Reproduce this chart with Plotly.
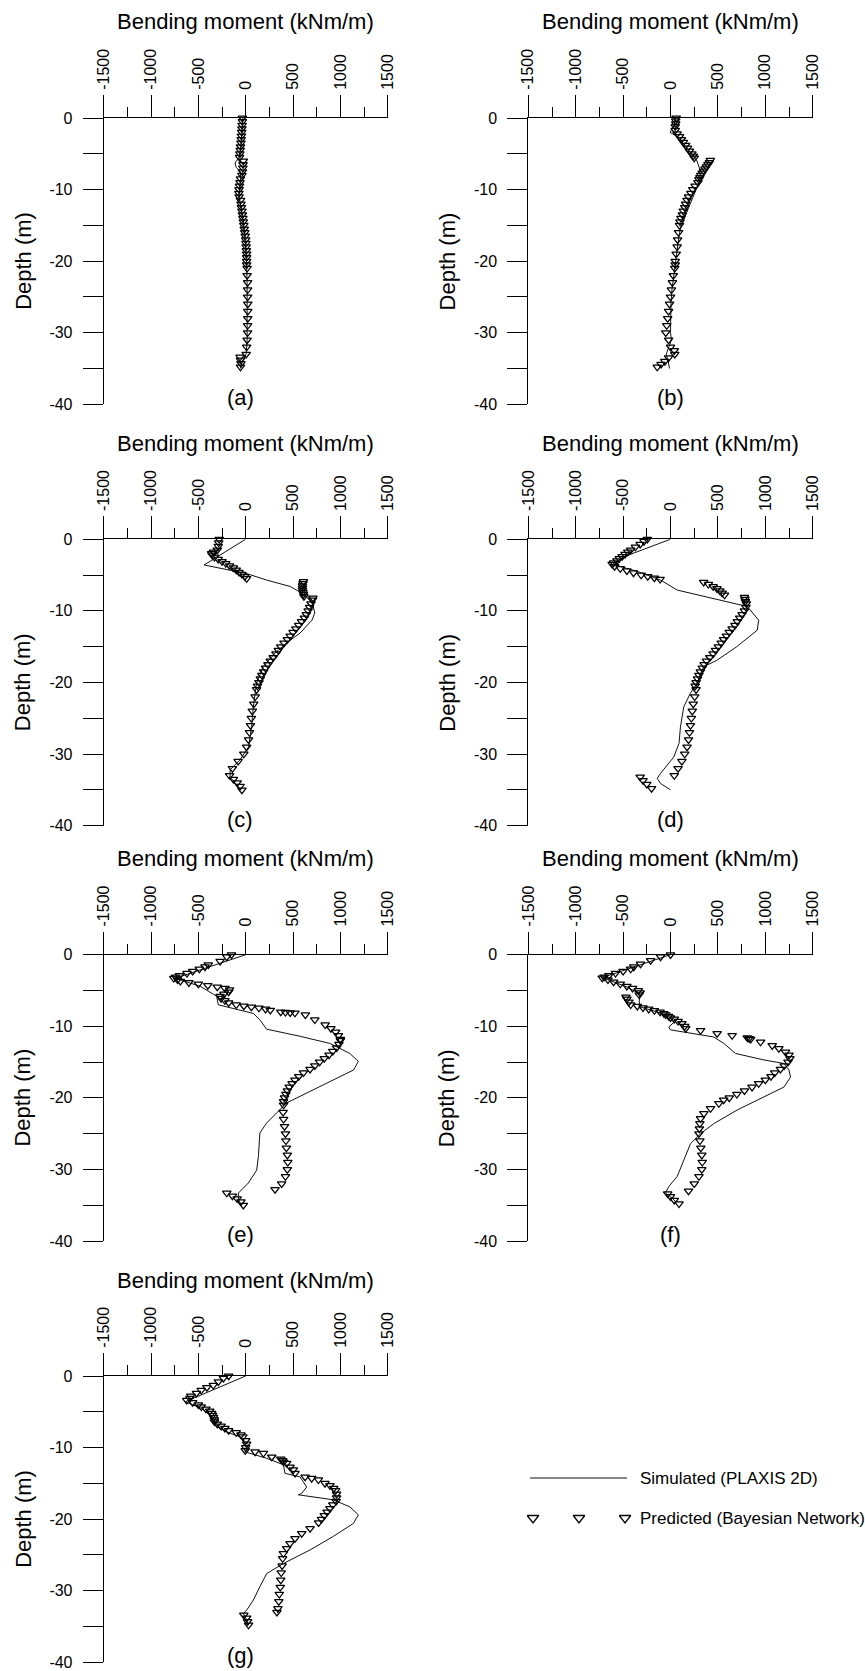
import plotly.graph_objects as go

# ---------------- data (depth in m, bending moment in kNm/m) ----------------
panel_labels = ["(a)", "(b)", "(c)", "(d)", "(e)", "(f)", "(g)"]
x_tick_values = [-1500, -1000, -500, 0, 500, 1000, 1500]
y_tick_values = [0, -5, -10, -15, -20, -25, -30, -35, -40]
y_tick_text = ["0", "", "-10", "", "-20", "", "-30", "", "-40"]

# (a)
sim_a_depth = [0, -2, -4, -5.5, -6.3, -6.9, -7.5, -8.5, -10, -11, -12, -13, -14.5, -16, -18, -20, -23, -26, -29, -31, -33, -34, -35]
sim_a_val = [-30, -38, -50, -70, -113, -100, -55, -55, -65, -70, -55, -40, -25, -10, 0, 8, 15, 18, 18, 15, 5, -35, -55]
pred_a_depth = [0, -0.5, -1, -1.5, -2, -2.5, -3, -3.5, -4, -4.5, -5, -5.5, -6, -6.5, -7, -7.5, -8, -8.5, -9, -9.5,
                -10, -10.5, -11, -11.5, -12, -12.5, -13, -13.5, -14, -14.5, -15, -15.5, -16, -16.5, -17, -17.5, -18, -18.5, -19, -19.5,
                -20, -20.5, -21, -22, -23, -24, -25, -26, -27, -28, -29, -30, -31, -32, -33, -33.4, -33.8, -34.3, -34.8]
pred_a_val = [-35, -35, -38, -40, -42, -45, -48, -50, -55, -58, -62, -65, -25, -28, -30, -35, -40, -55, -60, -65,
              -70, -72, -70, -55, -50, -45, -40, -35, -30, -25, -20, -15, -10, -5, 0, 2, 5, 7, 10, 10,
              10, 10, 15, 15, 20, 20, 20, 22, 22, 22, 20, 20, 15, 10, 5, -60, -55, -50, -55]

# (b)
sim_b_depth = [0, -1, -2, -2.5, -3, -4, -5, -6, -7, -8, -9, -10, -11, -12, -13, -14, -15, -16, -18, -20, -22, -24, -26, -28, -30, -31, -32, -33, -34, -35]
sim_b_val = [50, 40, -5, 60, 100, 160, 220, 280, 305, 315, 300, 270, 240, 210, 180, 145, 115, 95, 75, 60, 35, 15, 5, 0, 0, 10, -20, -45, -25, -10]
pred_b_depth = [0, -0.4, -0.8, -1.2, -1.7, -2.2, -2.6, -3, -3.4, -3.8, -4.2, -4.6, -5, -5.3, -5.6, -5.9, -6.2, -6.5, -6.8, -7.1,
                -7.4, -7.7, -8, -8.3, -8.6, -9, -9.5, -10, -10.5, -11, -11.5, -12, -12.5, -13, -13.5, -14, -14.5, -15, -16, -17,
                -18, -19, -20, -20.5, -21, -22, -23, -24, -25, -26, -27, -28, -29, -30, -31, -32, -32.5, -33, -33.5, -34, -34.4, -34.8]
pred_b_val = [60, 55, 55, 50, 50, 70, 95, 115, 135, 160, 180, 200, 225, 240, 250, 420, 410, 395, 380, 365,
              350, 335, 320, 310, 300, 290, 260, 235, 215, 190, 175, 160, 150, 135, 125, 110, 100, 95, 85, 75,
              70, 60, 50, 50, 45, 30, 20, 10, 0, -10, -20, -30, -40, -50, -20, 0, 40, 45, -20, -60, -100, -140]

# (c)
sim_c_depth = [0, -3.6, -4.8, -5.7, -6.6, -7.5, -8.7, -10.3, -11.3, -13.1, -14.5, -15.9, -17.8, -20.1, -23.4, -26.2, -29, -30.8, -32.2, -33.2, -35]
sim_c_val = [0, -440, 10, 220, 470, 590, 700, 730, 700, 575, 430, 310, 185, 115, 80, 63, 30, -60, -165, -165, -50]
pred_c_depth = [0, -0.5, -1, -1.5, -1.8, -2, -2.2, -2.5, -2.8, -3.1, -3.4, -3.7, -4, -4.3, -4.6, -4.9, -5.2, -5.5, -5.9, -6.2,
                -6.5, -6.8, -7.1, -7.4, -7.7, -8, -8.2, -8.5, -9, -9.5, -10, -10.5, -11, -11.5, -12, -12.5, -13, -13.5, -14, -14.5,
                -15, -15.5, -16, -16.5, -17, -17.5, -18, -18.5, -19, -19.5, -20, -20.5, -21, -22, -23, -24, -25, -26, -27, -28,
                -29, -30, -31, -32, -33, -33.5, -34, -34.5, -35]
pred_c_val = [-280, -285, -290, -300, -340, -360, -355, -330, -290, -250, -210, -170, -130, -100, -70, -40, -10, 10, 610, 605,
              600, 600, 600, 605, 610, 615, 710, 705, 690, 675, 660, 640, 620, 590, 560, 530, 500, 470, 440, 405,
              370, 345, 320, 290, 260, 235, 210, 190, 170, 155, 140, 125, 115, 100, 85, 70, 60, 50, 40, 30,
              10, -20, -80, -140, -170, -130, -90, -60, -40]

# (d)
sim_d_depth = [0, -2.5, -3.5, -4.5, -5.7, -7.1, -9.4, -11.3, -12.7, -15, -16.9, -17.8, -20.1, -21.5, -23.4, -26.2, -28.5, -30.4, -32.7, -33.4, -34.1, -35]
sim_d_val = [0, -500, -610, -350, -105, 70, 810, 930, 915, 700, 490, 350, 280, 210, 140, 105, 90, 35, -105, -140, -105, 0]
pred_d_depth = [0, -0.3, -0.7, -1.1, -1.5, -1.8, -2.1, -2.4, -2.7, -3, -3.3, -3.5, -3.8, -4.1, -4.4, -4.7, -5, -5.2, -5.4, -5.6,
                -6, -6.3, -6.6, -6.9, -7.2, -7.5, -7.8, -8.1, -8.4, -8.7, -9, -9.5, -10, -10.5, -11, -11.5, -12, -12.5, -13, -13.5,
                -14, -14.5, -15, -15.5, -16, -16.5, -17, -17.5, -18, -18.5, -19, -19.5, -20, -20.5, -21, -22, -23, -24, -25, -26,
                -27, -28, -29, -30, -31, -32, -33, -33.2, -33.7, -34.2, -34.8]
pred_d_val = [-245, -280, -320, -370, -420, -450, -480, -510, -540, -565, -600, -615, -590, -530, -460, -390, -310, -240, -170, -110,
              350, 400, 450, 490, 520, 545, 570, 780, 785, 790, 800, 795, 780, 755, 730, 705, 680, 650, 620, 590,
              560, 535, 505, 475, 450, 415, 380, 355, 335, 315, 300, 285, 270, 260, 270, 255, 240, 230, 220, 210,
              200, 190, 175, 150, 120, 80, 40, -320, -290, -250, -200]

# (e)
sim_e_depth = [0, -3.3, -4.4, -5.8, -7.0, -7.5, -8.2, -9.1, -9.8, -10.4, -11.4, -12.4, -13.8, -14.9, -16.1, -17.5, -19.3, -20.7, -22.1, -23.5, -24.9, -28.2, -30.1, -31.9, -33.3, -34.3, -35]
sim_e_val = [0, -746, -482, -306, -290, -130, 80, 150, 187, 220, 575, 890, 1100, 1190, 1140, 925, 645, 433, 327, 222, 150, 134, 116, 28, -77, -77, -42]
pred_e_depth = [0, -0.3, -0.9, -1.4, -1.7, -2, -2.3, -2.6, -2.9, -3.1, -3.3, -3.5, -3.7, -3.9, -4.1, -4.3, -4.5, -4.7, -4.9, -5.2,
                -5.5, -5.8, -6.1, -6.4, -6.7, -7, -7.15, -7.3, -7.45, -7.6, -7.75, -8, -8.05, -8.1, -8.15, -8.4, -9.1, -9.8, -10.3, -10.8,
                -11.3, -11.8, -12, -12.5, -13, -13.5, -14, -14.5, -15, -15.5, -16, -16.5, -17, -17.5, -18, -18.5, -19, -19.5, -20, -20.5,
                -21, -22, -23, -24, -25, -26, -27, -28, -29, -30, -31, -32, -32.8, -33.3, -33.7, -34.1, -34.5, -35]
pred_e_val = [-150, -200, -270, -395, -430, -490, -560, -620, -700, -740, -760, -720, -690, -600, -500, -400, -300, -220, -170, -180,
              -230, -270, -260, -220, -180, -100, -20, 60, 140, 210, 260, 370, 420, 470, 520, 630, 730, 840, 900, 950,
              980, 1000, 1000, 985, 960, 920, 880, 830, 780, 730, 680, 610, 560, 520, 490, 460, 440, 425, 410, 400,
              400, 395, 400, 410, 420, 425, 430, 440, 445, 440, 420, 380, 310, -200, -140, -90, -50, -25]

# (f)
sim_f_depth = [0, -3.2, -4.5, -5.5, -6.5, -7.3, -8.0, -8.7, -9.4, -10.1, -10.5, -11.5, -12.4, -13.3, -13.8, -14.7, -15.2, -16.1, -17.1, -18.5,
               -19.9, -21.7, -23.6, -25, -26.4, -28.7, -31, -32.4, -33.3, -34, -34.5]
sim_f_val = [0, -720, -460, -320, -330, -320, -140, -18, 40, -18, 0, 457, 563, 650, 686, 985, 1196, 1250, 1266, 1196,
             985, 703, 457, 317, 211, 141, 70, -18, -53, 18, 53]
pred_f_depth = [0, -0.3, -0.8, -1.3, -1.7, -2, -2.3, -2.6, -2.9, -3.1, -3.25, -3.5, -3.8, -4.1, -4.4, -4.7, -5, -5.3, -5.6, -5.9,
                -6.2, -6.6, -7, -7.2, -7.4, -7.6, -7.8, -8, -8.2, -8.4, -8.6, -8.8, -9, -9.3, -9.6, -10, -10.3, -10.6, -11, -11.3,
                -11.6, -11.7, -11.8, -12.2, -12.7, -13.1, -13.6, -14, -14.5, -15, -15.5, -16, -16.5, -17, -17.5, -18, -18.5, -19, -19.5, -20,
                -20.3, -20.8, -21.5, -22.2, -22.9, -23.6, -24.3, -25, -26, -27, -28, -29, -30, -31, -32, -33, -33.4, -33.8, -34.3, -34.8]
pred_f_val = [0, -105, -210, -317, -387, -420, -500, -580, -650, -700, -720, -660, -600, -530, -460, -400, -340, -320, -330, -470,
              -460, -440, -420, -350, -290, -230, -170, -110, -70, -50, -20, 0, 40, 80, 120, 150, 160, 317, 492, 650,
              810, 830, 845, 950, 1073, 1143, 1213, 1250, 1260, 1240, 1200, 1160, 1100, 1060, 1000, 930, 860, 780, 700, 620,
              560, 510, 422, 352, 317, 310, 305, 300, 310, 320, 330, 335, 330, 300, 250, 190, -30, 0, 40, 90]

# (g)
sim_g_depth = [0, -3.6, -4.5, -5.9, -7.1, -8, -8.5, -9.6, -10.6, -11.5, -12.4, -13.6, -14.1, -15.5, -16.4, -16.6, -17.3, -18.3, -19.4, -20.6,
               -22.4, -24.3, -26.2, -27.6, -29.4, -31.3, -32.7, -33.2, -34.1, -34.8]
sim_g_val = [0, -640, -470, -340, -306, -165, -60, 28, -7, 222, 398, 415, 574, 644, 592, 556, 926, 1102, 1190, 1137,
             926, 680, 398, 222, 151, 81, 11, -25, 11, 28]
pred_g_depth = [0, -0.3, -0.8, -1.3, -1.6, -2, -2.4, -2.8, -3.1, -3.4, -3.7, -4, -4.3, -4.6, -4.9, -5.2, -5.5, -5.8, -6.1, -6.4,
                -6.7, -7, -7.3, -7.6, -7.9, -8.2, -8.5, -9, -9.5, -10, -10.4, -10.6, -10.8, -11.3, -11.6, -11.8, -12, -12.2, -12.7, -13.1,
                -13.6, -14.1, -14.3, -14.5, -15, -15.3, -15.7, -16, -16.5, -17, -17.5, -18, -18.5, -19, -19.5, -20, -20.5, -21.3, -22, -22.7,
                -23.4, -24.1, -24.8, -25.5, -26.5, -27.5, -28.5, -29.5, -30.5, -31.5, -32.5, -33, -33.4, -33.8, -34.3, -34.8]
pred_g_val = [-180, -236, -289, -342, -410, -470, -520, -580, -590, -623, -560, -500, -470, -420, -380, -360, -350, -340, -330, -330,
              -300, -260, -220, -180, -100, -50, -30, 0, 10, 0, -5, 99, 187, 275, 370, 390, 400, 433, 468, 503,
              521, 627, 697, 768, 838, 890, 930, 950, 960, 960, 955, 920, 890, 860, 830, 800, 770, 680, 592, 521,
              468, 433, 398, 390, 385, 375, 370, 365, 355, 350, 340, 330, -20, 10, 20, 30]

legend_names = ["Simulated (PLAXIS 2D)", "Predicted (Bayesian Network)"]

sim_depths = [sim_a_depth, sim_b_depth, sim_c_depth, sim_d_depth, sim_e_depth, sim_f_depth, sim_g_depth]
sim_vals = [sim_a_val, sim_b_val, sim_c_val, sim_d_val, sim_e_val, sim_f_val, sim_g_val]
pred_depths = [pred_a_depth, pred_b_depth, pred_c_depth, pred_d_depth, pred_e_depth, pred_f_depth, pred_g_depth]
pred_vals = [pred_a_val, pred_b_val, pred_c_val, pred_d_val, pred_e_val, pred_f_val, pred_g_val]
for d, v in zip(sim_depths + pred_depths, sim_vals + pred_vals):
    assert len(d) == len(v), (len(d), len(v))

# ---------------- layout geometry (pixels) ----------------
W, H = 865, 1671
COLS = [(103.7, 387.7), (528.3, 812.7)]
ROWS = [(118.0, 404.3), (539.2, 825.7), (954.7, 1241.0), (1376.0, 1662.3)]
FONT = "Liberation Sans, Arial, Helvetica, sans-serif"


def px_x(p):
    return p / W


def px_y(p):
    return 1 - p / H


fig = go.Figure()
annotations = []
layout = dict(
    width=W, height=H, autosize=False, template="none",
    margin=dict(l=0, r=0, t=0, b=0, pad=0),
    paper_bgcolor="white", plot_bgcolor="rgba(0,0,0,0)",
    showlegend=False,
    font=dict(family=FONT, color="black"),
)

for i in range(7):
    col = i % 2
    row = i // 2
    x0, x1 = COLS[col]
    ytop, ybot = ROWS[row]
    n = "" if i == 0 else str(i + 1)
    xa, ya = "x" + n, "y" + n

    layout["xaxis" + n] = dict(
        domain=[px_x(x0), px_x(x1)], range=[-1500, 1500], anchor=ya, side="top",
        showline=True, linecolor="black", linewidth=1, mirror=False,
        ticks="outside", ticklen=22, tickwidth=1, tickcolor="black",
        tickmode="array", tickvals=x_tick_values, ticktext=[str(v) for v in x_tick_values],
        tickangle=-90, tickfont=dict(size=16, family=FONT, color="black"),
        ticklabelstandoff=2,
        minor=dict(ticks="outside", ticklen=10, tickwidth=1, tickcolor="black",
                   tickmode="linear", tick0=-1250, dtick=500, showgrid=False),
        showgrid=False, zeroline=False, automargin=False, fixedrange=True,
    )
    layout["yaxis" + n] = dict(
        domain=[px_y(ybot), px_y(ytop)], range=[-40, 0], anchor=xa, side="left",
        showline=True, linecolor="black", linewidth=1, mirror=False,
        ticks="outside", ticklen=20, tickwidth=1, tickcolor="black",
        tickmode="array", tickvals=y_tick_values, ticktext=y_tick_text,
        tickfont=dict(size=16, family=FONT, color="black"),
        ticklabelstandoff=7,
        showgrid=False, zeroline=False, automargin=False, fixedrange=True,
    )

    fig.add_trace(go.Scatter(
        x=sim_vals[i], y=sim_depths[i], mode="lines", xaxis=xa, yaxis=ya,
        line=dict(color="#111111", width=1), name=legend_names[0], hoverinfo="skip",
    ))
    fig.add_trace(go.Scatter(
        x=pred_vals[i], y=pred_depths[i], mode="markers", xaxis=xa, yaxis=ya,
        marker=dict(symbol="triangle-down-open", size=7.5, color="black", line=dict(width=1.25, color="black")),
        name=legend_names[1], cliponaxis=False, hoverinfo="skip",
    ))

    # axis titles and panel label
    annotations.append(dict(
        x=px_x((x0 + x1) / 2), y=px_y(ytop - 96), xref="paper", yref="paper",
        text="Bending moment (kNm/m)", showarrow=False, xanchor="center", yanchor="middle",
        font=dict(size=22, family=FONT, color="black"),
    ))
    annotations.append(dict(
        x=px_x(x0 - 81), y=px_y((ytop + ybot) / 2), xref="paper", yref="paper",
        text="Depth (m)", textangle=-90, showarrow=False, xanchor="center", yanchor="middle",
        font=dict(size=22, family=FONT, color="black"),
    ))
    annotations.append(dict(
        x=-60 if col == 0 else -5, y=-39.1, xref=xa, yref=ya,
        text=panel_labels[i], showarrow=False, xanchor="center", yanchor="middle",
        font=dict(size=22, family=FONT, color="black"),
    ))

# ---------------- custom legend (small pixel-coordinate axis) ----------------
LX0, LX1, LY0, LY1 = 500, 660, 1460, 1540
layout["xaxis8"] = dict(domain=[px_x(LX0), px_x(LX1)], range=[LX0, LX1], visible=False, anchor="y8", fixedrange=True)
layout["yaxis8"] = dict(domain=[px_y(LY1), px_y(LY0)], range=[LY1, LY0], visible=False, anchor="x8", fixedrange=True)
LEG_LINE_Y, LEG_MARK_Y, LEG_TEXT_X = 1478, 1518, 638
fig.add_trace(go.Scatter(
    x=[530, 627], y=[LEG_LINE_Y, LEG_LINE_Y], mode="lines", xaxis="x8", yaxis="y8",
    line=dict(color="#111111", width=1), hoverinfo="skip",
))
fig.add_trace(go.Scatter(
    x=[533, 579, 625], y=[LEG_MARK_Y, LEG_MARK_Y, LEG_MARK_Y], mode="markers", xaxis="x8", yaxis="y8",
    marker=dict(symbol="triangle-down-open", size=10, color="black", line=dict(width=1.3, color="black")),
    hoverinfo="skip",
))
for txt, yy in zip(legend_names, [LEG_LINE_Y, LEG_MARK_Y]):
    annotations.append(dict(
        x=px_x(LEG_TEXT_X), y=px_y(yy), xref="paper", yref="paper", text=txt, showarrow=False,
        xanchor="left", yanchor="middle", font=dict(size=17, family=FONT, color="black"),
    ))

layout["annotations"] = annotations
fig.update_layout(**layout)
fig.write_html("out.html")
